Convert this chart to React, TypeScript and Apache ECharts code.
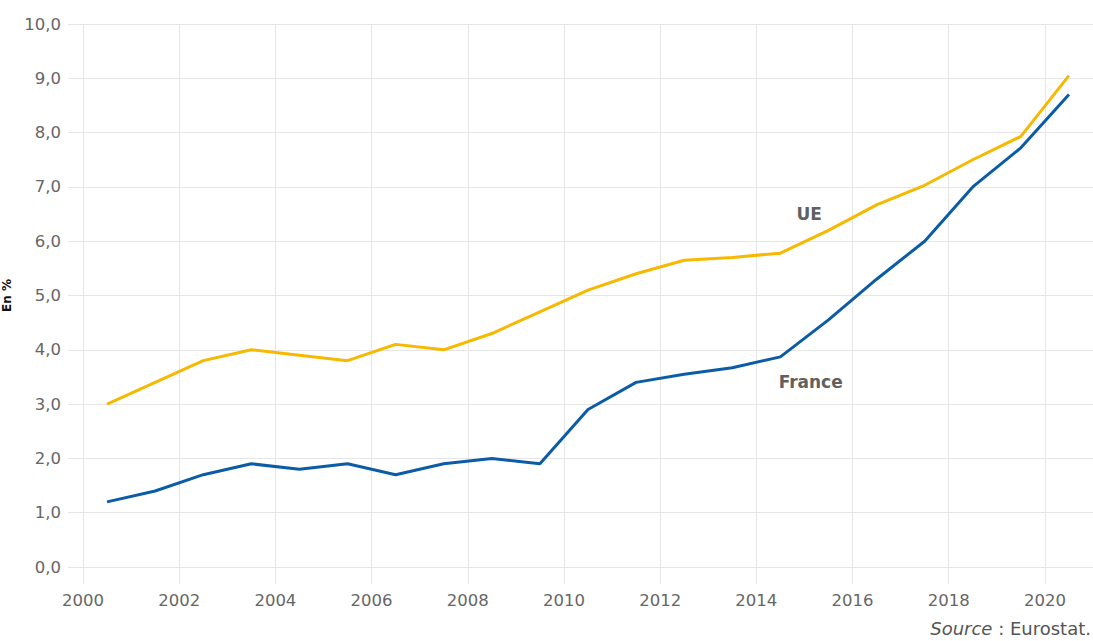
import React, { useEffect, useRef } from "react";
import * as echarts from "echarts";

const years = [2000.5, 2001.5, 2002.5, 2003.5, 2004.5, 2005.5, 2006.5, 2007.5, 2008.5, 2009.5, 2010.5, 2011.5, 2012.5, 2013.5, 2014.5, 2015.5, 2016.5, 2017.5, 2018.5, 2019.5, 2020.5];
const ueValues = [3.0, 3.4, 3.8, 4.0, 3.9, 3.8, 4.1, 4.0, 4.3, 4.7, 5.1, 5.4, 5.65, 5.7, 5.78, 6.2, 6.67, 7.03, 7.5, 7.93, 9.05];
const franceValues = [1.2, 1.4, 1.7, 1.9, 1.8, 1.9, 1.7, 1.9, 2.0, 1.9, 2.9, 3.4, 3.55, 3.67, 3.87, 4.55, 5.3, 6.0, 7.0, 7.72, 8.7];
const ueLabelPos = [2015.1, 6.51];
const franceLabelPos = [2015.13, 3.41];

const FONT = "'DejaVu Sans', sans-serif";
const GRID_COLOR = "#e6e6e6";

export default function App() {
  const ref = useRef<HTMLDivElement>(null);
  useEffect(() => {
    document.body.style.margin = "0";
    if (!ref.current) return;
    const chart = echarts.init(ref.current, null, { renderer: "svg" });
    const pairs = (vals: number[]) => years.map((y, i) => [y, vals[i]]);
    chart.setOption({
      animation: false,
      backgroundColor: "#ffffff",
      grid: { left: 83, right: 0, top: 24, bottom: 74, containLabel: false, outerBoundsMode: "none" },
      xAxis: {
        type: "value",
        min: 2000,
        max: 2021,
        interval: 2,
        axisLine: { show: true, lineStyle: { color: GRID_COLOR, width: 1 } },
        axisTick: { show: true, length: 17, lineStyle: { color: GRID_COLOR } },
        splitLine: { show: true, lineStyle: { color: GRID_COLOR, width: 1 } },
        axisLabel: {
          margin: 25,
          color: "#666",
          fontSize: 16.5,
          fontFamily: FONT,
          showMaxLabel: false,
          formatter: (v: number) => (Number.isInteger(v) && v % 2 === 0 ? String(v) : ""),
        },
      },
      yAxis: {
        type: "value",
        min: 0,
        max: 10,
        interval: 1,
        name: "En %",
        nameLocation: "middle",
        nameGap: 62,
        nameRotate: 90,
        nameTextStyle: { color: "#111", fontSize: 12, fontWeight: "bold", fontFamily: FONT },
        axisLine: { show: false },
        axisTick: { show: true, length: 15, lineStyle: { color: GRID_COLOR } },
        splitLine: { show: true, lineStyle: { color: GRID_COLOR, width: 1 } },
        axisLabel: {
          margin: 22,
          color: "#666",
          fontSize: 16.5,
          fontFamily: FONT,
          formatter: (v: number) => v.toFixed(1).replace(".", ","),
        },
      },
      series: [
        {
          name: "UE",
          type: "line",
          data: pairs(ueValues),
          symbol: "none",
          lineStyle: { color: "#F7B800", width: 3 },
          itemStyle: { color: "#F7B800" },
          markPoint: {
            symbol: "circle",
            symbolSize: 0,
            label: { show: true, formatter: "UE", color: "#606060", fontSize: 17, fontWeight: "bold", fontFamily: FONT, position: "inside" },
            data: [{ coord: ueLabelPos }],
          },
        },
        {
          name: "France",
          type: "line",
          data: pairs(franceValues),
          symbol: "none",
          lineStyle: { color: "#0B5CA6", width: 3 },
          itemStyle: { color: "#0B5CA6" },
          markPoint: {
            symbol: "circle",
            symbolSize: 0,
            label: { show: true, formatter: "France", color: "#606060", fontSize: 17, fontWeight: "bold", fontFamily: FONT, position: "inside" },
            data: [{ coord: franceLabelPos }],
          },
        },
      ],
      graphic: [
        {
          type: "text",
          right: 2,
          top: 619,
          style: {
            text: "{i|Source} : Eurostat.",
            fontSize: 18,
            fontFamily: FONT,
            fill: "#555",
            rich: {
              i: { fontStyle: "italic", fontSize: 18, fontFamily: FONT, fill: "#555" },
            },
          },
        },
      ],
    });
    return () => chart.dispose();
  }, []);
  return <div ref={ref} style={{ width: 1093, height: 641 }} />;
}
